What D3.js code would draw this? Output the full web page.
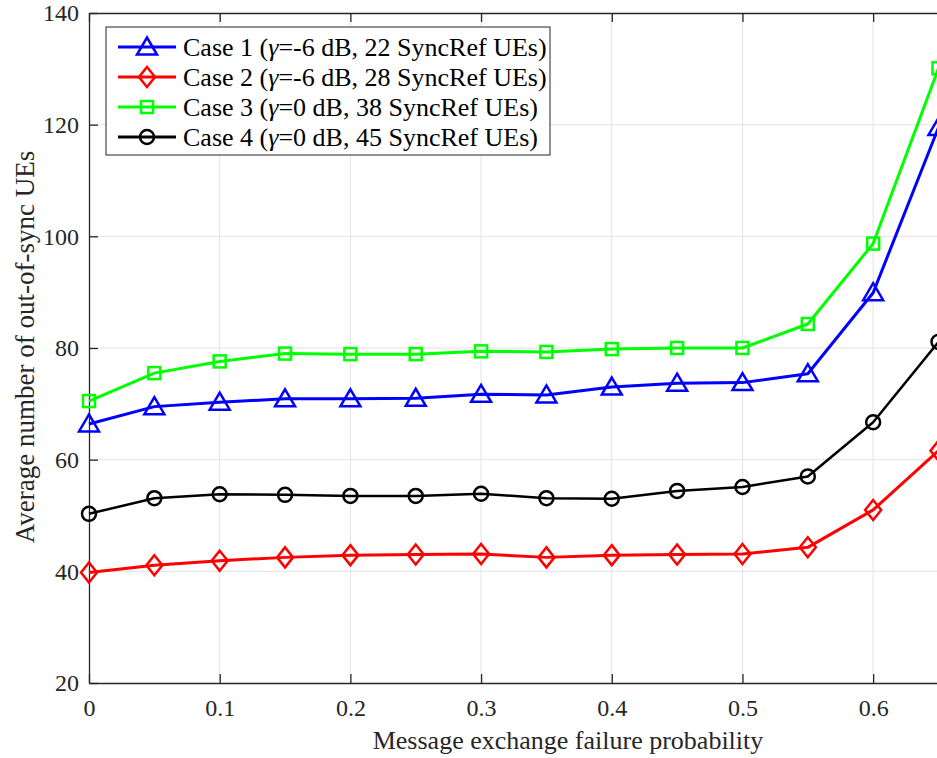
<!DOCTYPE html>
<html>
<head>
<meta charset="utf-8">
<script src="https://cdn.jsdelivr.net/npm/d3@7"></script>
<style>
  body { margin: 0; background: #fff; }
  text { font-family: "Liberation Serif", "Times New Roman", serif; fill: #262626; }
</style>
</head>
<body>
<div id="chart"></div>
<script>
// x values (message exchange failure probability)
const probs = [0, 0.05, 0.1, 0.15, 0.2, 0.25, 0.3, 0.35, 0.4, 0.45, 0.5, 0.55, 0.6, 0.65];

// series values
const case1 = [66.4, 69.5, 70.3, 70.9, 70.9, 71.0, 71.7, 71.6, 73.0, 73.7, 73.8, 75.4, 89.9, 119.5];
const case2 = [39.8, 41.1, 41.9, 42.5, 42.9, 43.0, 43.1, 42.5, 42.9, 43.0, 43.1, 44.3, 51.0, 61.6];
const case3 = [70.5, 75.5, 77.6, 79.0, 78.9, 78.9, 79.4, 79.3, 79.8, 80.0, 80.0, 84.3, 98.7, 130.1];
const case4 = [50.3, 53.1, 53.8, 53.7, 53.5, 53.5, 53.9, 53.1, 53.0, 54.4, 55.1, 57.0, 66.7, 81.1];

// legend pieces: [before gamma, after gamma]
const seriesNames = [
  ["Case 1 (", "=-6 dB, 22 SyncRef UEs)"],
  ["Case 2 (", "=-6 dB, 28 SyncRef UEs)"],
  ["Case 3 (", "=0 dB, 38 SyncRef UEs)"],
  ["Case 4 (", "=0 dB, 45 SyncRef UEs)"]
];
const seriesColors = ["#0000ff", "#ff0000", "#00ff00", "#000000"];
const seriesMarkers = ["triangle", "diamond", "square", "circle"];

const xTicks = [0, 0.1, 0.2, 0.3, 0.4, 0.5, 0.6];
const yTicks = [20, 40, 60, 80, 100, 120, 140];

const width = 937, height = 758;
const margin = { top: 13, left: 89, bottom: 75 };
const plotRight = 938.5; // axes box runs just past the window edge

const svg = d3.select("#chart").append("svg")
  .attr("width", width)
  .attr("height", height);

const x = d3.scaleLinear().domain([0, 0.65]).range([margin.left, plotRight]);
const y = d3.scaleLinear().domain([20, 140]).range([height - margin.bottom, margin.top]);

// grid
const grid = svg.append("g");
grid.selectAll(".vg").data(xTicks.slice(1)).join("line")
  .attr("x1", d => x(d)).attr("x2", d => x(d))
  .attr("y1", y(20)).attr("y2", y(140))
  .attr("stroke", "#e3e3e3").attr("stroke-width", 1);
grid.selectAll(".hg").data(yTicks.slice(1, -1)).join("line")
  .attr("x1", x(0)).attr("x2", x(0.65))
  .attr("y1", d => y(d)).attr("y2", d => y(d))
  .attr("stroke", "#e3e3e3").attr("stroke-width", 1);

// axes (ticks inward, MATLAB style)
const xAxis = d3.axisBottom(x).tickValues(xTicks).tickFormat(d => d === 0 ? "0" : d3.format(".1f")(d))
  .tickSizeInner(-9).tickSizeOuter(0).tickPadding(16);
const yAxis = d3.axisLeft(y).tickValues(yTicks).tickFormat(d3.format("d"))
  .tickSizeInner(-9).tickSizeOuter(0).tickPadding(10);
const xAxisTop = d3.axisTop(x).tickValues(xTicks).tickFormat("").tickSizeInner(-9).tickSizeOuter(0);

const xAxisG = svg.append("g").attr("transform", `translate(0,${y(20)})`).call(xAxis);
const yAxisG = svg.append("g").attr("transform", `translate(${x(0)},0)`).call(yAxis);
const xTopG = svg.append("g").attr("transform", `translate(0,${y(140)})`).call(xAxisTop);

[xAxisG, yAxisG, xTopG].forEach(g => {
  g.select(".domain").attr("stroke", "#262626").attr("stroke-width", 1.3);
  g.selectAll(".tick line").attr("stroke", "#262626").attr("stroke-width", 1.3);
  g.selectAll(".tick text").attr("font-size", 24).attr("font-family", "Liberation Serif").attr("fill", "#262626");
});
yAxisG.selectAll(".tick text").attr("dy", "0.32em");

// axis labels
svg.append("text")
  .attr("x", 568).attr("y", 749)
  .attr("text-anchor", "middle")
  .attr("font-size", 26)
  .text("Message exchange failure probability");

svg.append("text")
  .attr("transform", `translate(34,347) rotate(-90)`)
  .attr("text-anchor", "middle")
  .attr("font-size", 27)
  .text("Average number of out-of-sync UEs");

// marker drawing helper
function drawMarker(g, type, color) {
  if (type === "triangle") {
    g.append("path").attr("d", "M0,-9.5 L10,7.5 L-10,7.5 Z");
  } else if (type === "diamond") {
    g.append("path").attr("d", "M0,-10 L8,0 L0,10 L-8,0 Z");
  } else if (type === "square") {
    g.append("rect").attr("x", -6).attr("y", -6).attr("width", 12).attr("height", 12);
  } else {
    g.append("circle").attr("r", 7);
  }
  g.selectAll("*").attr("fill", "none").attr("stroke", color).attr("stroke-width", 2.5);
}

const allSeries = [case1, case2, case3, case4];
const line = d3.line().x((d, i) => x(probs[i])).y(d => y(d));

// draw in reverse so Case 1 sits on top
const drawOrder = [3, 2, 1, 0];
drawOrder.forEach(k => {
  const g = svg.append("g");
  g.append("path")
    .datum(allSeries[k])
    .attr("d", line)
    .attr("fill", "none")
    .attr("stroke", seriesColors[k])
    .attr("stroke-width", k === 3 ? 2.5 : 3)
    .attr("stroke-linejoin", "round");
  allSeries[k].forEach((v, i) => {
    const m = g.append("g").attr("transform", `translate(${x(probs[i])},${y(v)})`);
    drawMarker(m, seriesMarkers[k], seriesColors[k]);
  });
});

// legend
const legend = svg.append("g").attr("transform", "translate(106,27)");
legend.append("rect")
  .attr("width", 444).attr("height", 128)
  .attr("fill", "#fff").attr("stroke", "#262626").attr("stroke-width", 1);
seriesNames.forEach((name, k) => {
  const row = legend.append("g").attr("transform", `translate(0,${20 + k * 30})`);
  row.append("line").attr("x1", 12).attr("x2", 70)
    .attr("stroke", seriesColors[k]).attr("stroke-width", 3);
  const m = row.append("g").attr("transform", "translate(41,0)");
  drawMarker(m, seriesMarkers[k], seriesColors[k]);
  const t = row.append("text").attr("x", 77).attr("dy", "0.35em")
    .attr("font-size", 26).style("fill", "#000");
  t.append("tspan").text(name[0]);
  t.append("tspan").attr("font-style", "italic").text("\u03B3");
  t.append("tspan").text(name[1]);
});
</script>
</body>
</html>
